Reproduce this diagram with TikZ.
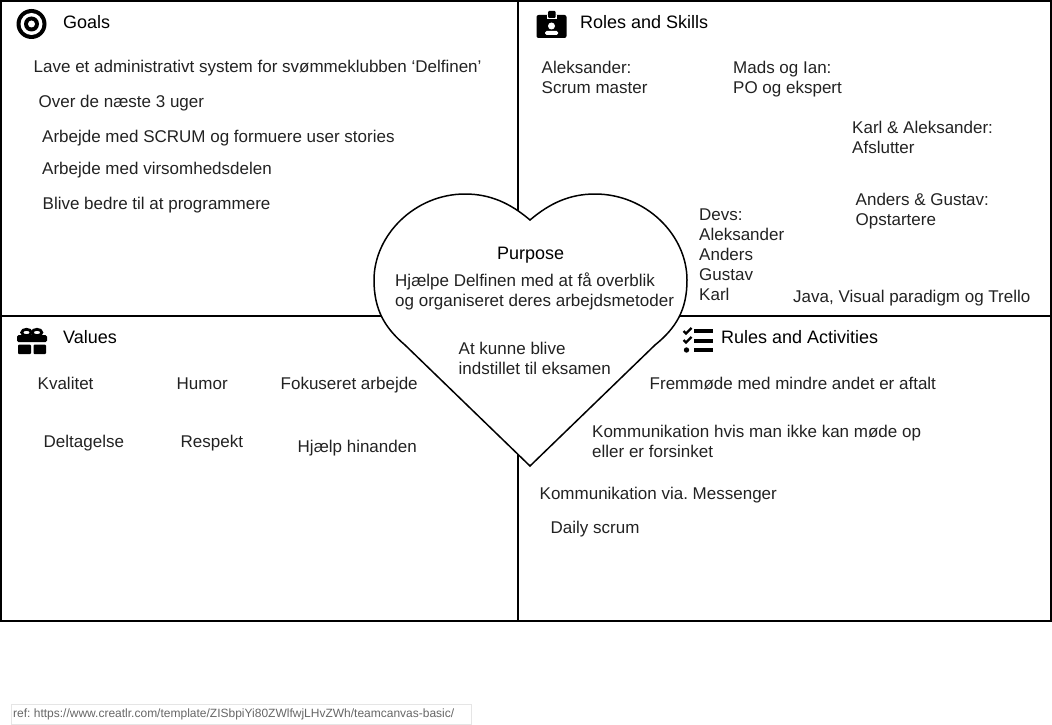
\documentclass[tikz,border=0pt]{standalone}
\usepackage{fontspec}
\setmainfont{Liberation Sans}
\definecolor{txtgray}{HTML}{222222}
\tikzset{
  canvasline/.style={line width=2pt},
  headtxt/.style={anchor=north west,inner sep=0pt,align=left,text=black,font=\fontsize{18}{20}\selectfont},
  bodytxt/.style={anchor=north west,inner sep=0pt,align=left,text=txtgray,font=\fontsize{17}{20}\selectfont},
  heartline/.style={line width=1.5pt,fill=white},
  reftxt/.style={anchor=west,inner sep=0pt,text=black!60,font=\fontsize{12}{14}\selectfont}
}
\begin{document}
\frenchspacing
\begin{tikzpicture}[x=1pt,y=-1pt]
\useasboundingbox (0,0) rectangle (1052,725);
% canvas
\draw [canvasline] (1,1) rectangle (1051,621);
\draw [canvasline] (518,1) -- (518,621);
\draw [canvasline] (1,316) -- (1051,316);
% heart
\draw [heartline] (530,220) .. controls (510,203) and (490,194) .. (465,194)
  .. controls (415,194) and (374,235) .. (374,280)
  .. controls (374,310) and (385,328) .. (405,345)
  -- (530,466) -- (655,345)
  .. controls (676,328) and (687,310) .. (687,280)
  .. controls (687,235) and (646,194) .. (595,194)
  .. controls (570,194) and (550,203) .. (530,220) -- cycle;
% goals icon
\fill (31.5,24) circle (15);
\fill [white] (31.5,24) circle (11);
\fill (31.5,24) circle (7.5);
\fill [white] (31.5,24) circle (3.5);
% roles icon
\fill [rounded corners=2pt] (536.5,15) rectangle (566.5,38);
\fill [white] (547,15) rectangle (557,19);
\fill [rounded corners=1pt] (548,11) rectangle (555.5,18);
\fill [white] (551.5,26) circle (3.5);
\fill [white,rounded corners=1.5pt] (545,31) rectangle (558,35);
% values icon
\fill [rounded corners=1.5pt] (17,335) rectangle (47,342);
\fill [rounded corners=1pt] (18,344.5) rectangle (31,354);
\fill [rounded corners=1pt] (33.5,344.5) rectangle (46,354);
\draw [line width=2.8pt] (26.5,332.5) ellipse (4.8 and 3.2);
\draw [line width=2.8pt] (37,332.5) ellipse (4.8 and 3.2);
% rules icon
\foreach \ybar in {331,341,350} {
  \fill (694,\ybar-2) rectangle (713,\ybar+2);
}
\foreach \ybar in {331,340} {
  \draw [line width=2.2pt] (683.5,\ybar) -- (686,\ybar+2.5) -- (691.5,\ybar-3);
}
\fill (686.5,350) circle (2.7);
% headings
\foreach \xp/\yb/\txt [count=\i] in {
  63/28/Goals,
  580/28/Roles and Skills,
  63/343/Values,
  721/343/Rules and Activities,
  497/259/Purpose} {
  \node [headtxt] (head\i) at (\xp,\yb-14) {\strut\txt};
}
% texts
\foreach \xp/\yb/\txt [count=\i] in {
  33.5/72/{Lave et administrativt system for svømmeklubben ‘Delfinen’},
  38.5/107/{Over de næste 3 uger},
  42/142/{Arbejde med SCRUM og formuere user stories},
  42/174/{Arbejde med virsomhedsdelen},
  42.5/209/{Blive bedre til at programmere},
  541.5/73/{Aleksander:\\Scrum master},
  733/73/{Mads og Ian:\\PO og ekspert},
  852/133/{Karl \& Aleksander:\\Afslutter},
  855.5/205/{Anders \& Gustav:\\Opstartere},
  699/220/{Devs:\\Aleksander\\Anders\\Gustav\\Karl},
  793/302/{Java, Visual paradigm og Trello},
  395/286/{Hjælpe Delfinen med at få overblik\\og organiseret deres arbejdsmetoder},
  458.5/354/{At kunne blive\\indstillet til eksamen},
  37.5/389/{Kvalitet},
  176.5/389/{Humor},
  280.5/389/{Fokuseret arbejde},
  43.5/447/{Deltagelse},
  180.5/447/{Respekt},
  297.5/452/{Hjælp hinanden},
  649.5/389/{Fremmøde med mindre andet er aftalt},
  592/437/{Kommunikation hvis man ikke kan møde op\\eller er forsinket},
  539.5/499.5/{Kommunikation via. Messenger},
  550.5/533/{Daily scrum}} {
  \node [bodytxt] (body\i) at (\xp,\yb-14) {\strut\txt};
}
% footer
\draw [black!10] (11.5,704.5) rectangle (471.5,724.5);
\node [reftxt] (refnote) at (13,714.5) {ref: https://www.creatlr.com/template/ZISbpiYi80ZWlfwjLHvZWh/teamcanvas-basic/};
\end{tikzpicture}
\end{document}
